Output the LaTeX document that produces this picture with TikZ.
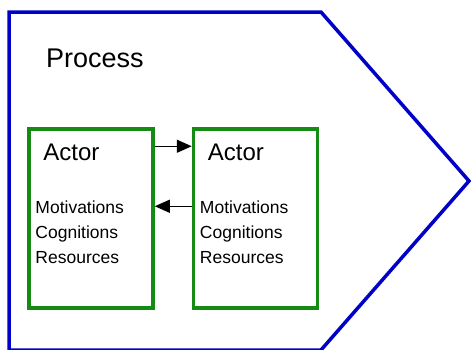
\documentclass[tikz,border=0pt]{standalone}
\usepackage{fontspec}
\setmainfont{Liberation Sans}
\usetikzlibrary{arrows.meta}
\usetikzlibrary{calc,positioning}
\definecolor{procblue}{RGB}{0,0,200}
\definecolor{actgreen}{RGB}{20,140,20}

\begin{document}
\begin{tikzpicture}[x=1pt, y=-1pt, >={Triangle[length=15pt,width=13pt]},
    process/.style={draw=procblue, line width=3.5pt, line join=miter},
    actorbox/.style={draw=actgreen, line width=3.5pt, minimum width=124pt, minimum height=179pt, inner sep=0pt},
    actortitle/.style={anchor=base west, inner sep=0pt, font=\fontsize{24}{28}\selectfont},
    actorlist/.style={anchor=base west, inner sep=0pt, align=left, font=\fontsize{17.5}{25}\selectfont},
    link/.style={->, line width=1.3pt}]

    \useasboundingbox (0,0) rectangle (471,349);

    % process arrow shape
    \draw[process] (9,12) -- (321,12) -- (469,181) -- (321,350) -- (9,350) -- cycle;
    \node[anchor=base west, inner sep=0pt, font=\fontsize{27}{32}\selectfont] (proc) at (46,67) {Process};

    % the two actors
    \node[actorbox] (actorL) at (91,218.5) {};
    \node[actorbox] (actorR) at (255.5,218.5) {};

    \node[actortitle] (titleL) at ($(actorL.north west)+(16,33)$) {Actor};
    \node[actortitle] (titleR) at ($(actorR.north west)+(16,33)$) {Actor};
    % base of a multi-line node is its last line
    \node[actorlist] (listL) at ($(actorL.north west)+(8,136)$) {Motivations\\Cognitions\\Resources};
    \node[actorlist] (listR) at ($(actorR.north west)+(8,136)$) {Motivations\\Cognitions\\Resources};

    % exchange between actors
    \draw[link] ([yshift=-19pt]actorL.north east) -- ([yshift=-19pt]actorR.north west);
    \draw[link] ([yshift=-79pt]actorR.north west) -- ([yshift=-79pt]actorL.north east);

\end{tikzpicture}
\end{document}
